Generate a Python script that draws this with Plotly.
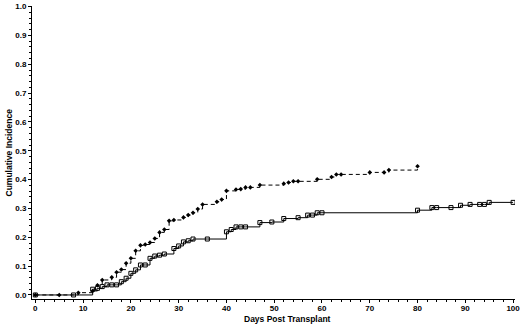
import plotly.graph_objects as go

# Dashed series (filled markers)
dashed_days = [0, 5, 9, 12, 13, 14, 16, 17, 18, 19, 20, 21, 22, 23, 24, 25, 26, 27, 28, 29,
               31, 32, 33, 34, 35, 38, 39, 40, 42, 43, 44, 45, 47, 52, 53, 54, 55, 59, 62, 63,
               64, 70, 73, 74, 80]
dashed_vals = [0.0, 0.0, 0.008, 0.014, 0.034, 0.052, 0.061, 0.079, 0.088, 0.110, 0.127, 0.153,
               0.172, 0.175, 0.182, 0.196, 0.217, 0.227, 0.257, 0.260, 0.269, 0.277, 0.285,
               0.298, 0.314, 0.323, 0.331, 0.361, 0.366, 0.367, 0.373, 0.373, 0.381, 0.386,
               0.390, 0.394, 0.394, 0.401, 0.409, 0.418, 0.418, 0.425, 0.425, 0.433, 0.446]

# Solid series (open squares)
solid_days = [0, 8, 12, 13, 14, 15, 16, 17, 18, 19, 20, 21, 22, 23, 24, 25, 26, 27, 29, 30,
              31, 32, 33, 36, 40, 41, 42, 43, 44, 47, 49.5, 52, 55, 57, 58, 59, 60, 80, 83, 84,
              87, 89, 91, 93, 94, 95, 100]
solid_vals = [0.0, 0.0, 0.020, 0.023, 0.029, 0.035, 0.035, 0.035, 0.046, 0.058, 0.075, 0.087,
              0.104, 0.104, 0.127, 0.135, 0.138, 0.142, 0.161, 0.170, 0.184, 0.188, 0.194,
              0.194, 0.219, 0.227, 0.236, 0.236, 0.236, 0.251, 0.253, 0.265, 0.268, 0.277,
              0.277, 0.285, 0.285, 0.294, 0.303, 0.303, 0.303, 0.311, 0.314, 0.314, 0.314,
              0.321, 0.321]

x_ticks = list(range(0, 101, 10))
y_ticks = [round(i * 0.1, 1) for i in range(11)]

fig = go.Figure()
fig.add_trace(go.Scatter(
    x=solid_days, y=solid_vals, mode="lines+markers", line_shape="hv",
    line=dict(color="black", width=1),
    marker=dict(symbol="square-open", size=4, color="black", line=dict(width=1)),
    showlegend=False))
fig.add_trace(go.Scatter(
    x=dashed_days, y=dashed_vals, mode="lines+markers", line_shape="hv",
    line=dict(color="black", width=1, dash="4px,3px"),
    marker=dict(symbol="diamond", size=3.5, color="black"),
    showlegend=False))

font_family = "Liberation Sans, Arial, sans-serif"
tick_font = dict(family=font_family, size=8, color="black", weight="bold")

fig.update_layout(
    width=520, height=326,
    margin=dict(l=32, r=5, t=6, b=27, autoexpand=False),
    paper_bgcolor="white", plot_bgcolor="white",
    xaxis=dict(range=[-0.7, 100.4], tickmode="array", tickvals=x_ticks,
               ticktext=[str(v) for v in x_ticks], automargin=False,
               ticklabeloverflow="allow", ticklabelstandoff=-2,
               showline=True, linecolor="black", linewidth=1, showgrid=False, zeroline=False,
               ticks="outside", ticklen=3, tickcolor="black", tickwidth=1,
               minor=dict(dtick=2, tick0=0, ticks="outside", ticklen=2, tickcolor="black", showgrid=False),
               tickfont=tick_font),
    yaxis=dict(range=[-0.014, 1.002], tickmode="array", tickvals=y_ticks,
               ticktext=[f"{v:.1f}" for v in y_ticks], automargin=False,
               ticklabeloverflow="allow",
               showline=True, linecolor="black", linewidth=1, showgrid=False, zeroline=False,
               ticks="outside", ticklen=3, tickcolor="black", tickwidth=1,
               minor=dict(dtick=0.02, tick0=0, ticks="outside", ticklen=2, tickcolor="black", showgrid=False),
               tickfont=tick_font),
    annotations=[
        dict(text="Days Post Transplant", xref="paper", yref="paper", x=0.53, y=0,
             yshift=-13, xanchor="center", yanchor="top", showarrow=False,
             font=dict(family=font_family, size=8.5, color="black", weight="bold")),
        dict(text="Cumulative Incidence", xref="paper", yref="paper", x=0, y=0.5,
             xshift=-24, xanchor="center", yanchor="middle", textangle=-90, showarrow=False,
             font=dict(family=font_family, size=8.5, color="black", weight="bold")),
    ],
)

fig.write_html("out.html", config={"displayModeBar": False},
               post_script="document.body.style.margin='0';document.body.style.padding='0';")
